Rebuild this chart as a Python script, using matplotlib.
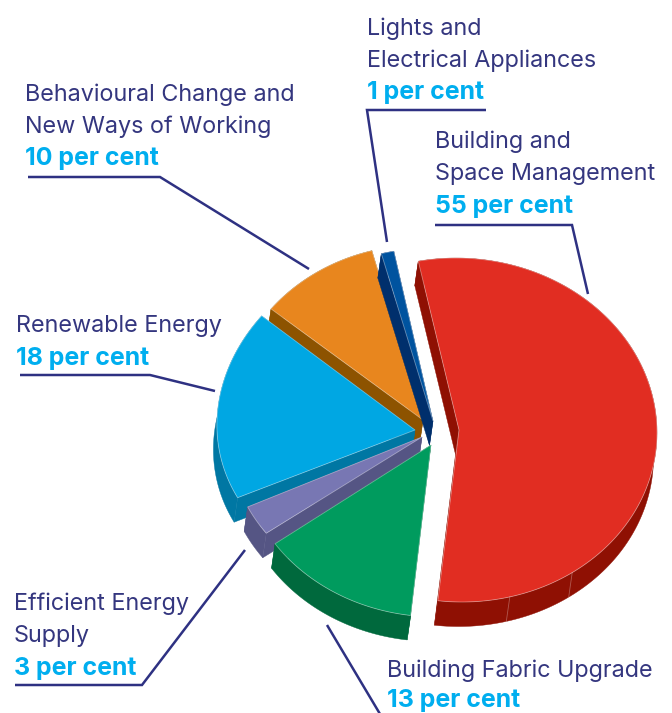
import numpy as np
import matplotlib
matplotlib.use("Agg")
import matplotlib.pyplot as plt
from matplotlib.patches import Polygon

categories = ["Building and\nSpace Management", "Building Fabric Upgrade", "Efficient Energy\nSupply",
              "Renewable Energy", "Behavioural Change and\nNew Ways of Working", "Lights and\nElectrical Appliances"]
values = [55, 13, 3, 18, 10, 1]

W, H = 672, 713
START = -11.0
TOP = ["#E12D22", "#009B5E", "#7877B3", "#00A7E3", "#E8861E", "#00539F"]
SIDE = ["#8F1003", "#00693D", "#555584", "#0077A3", "#8D5300", "#002F6C"]
# per-slice placement: apex x, apex y, rx, ry, perspective, shear
PLACE = [(459, 430, 198, 172, 0.0, -3),
         (431, 445, 189, 161, -0.063, -4),
         (422, 437, 193, 163, 0.0, 0),
         (415, 430, 198, 166, 0.121, 18),
         (423, 420, 195, 175, 0.0, -2),
         (433, 421, 205, 173, 0.0, 0)]
DEPTH = np.array([-3.5, 24.5])
ORDER = [4, 5, 3, 2, 1, 0]
NAVY = "#2E3182"
TEXT_NAVY = "#34367F"
CYAN = "#00AEEF"

plt.rcParams["font.family"] = ["Inter", "DejaVu Sans"]
fig = plt.figure(figsize=(W / 100, H / 100), dpi=100)
ax = fig.add_axes([0, 0, 1, 1])
ax.set_xlim(0, W)
ax.set_ylim(H, 0)
ax.axis("off")


def point(place, theta):
    ax0, ay0, rx, ry, p, sk = place
    t = np.radians(theta)
    u, v = np.sin(t), np.cos(t)
    w = 1 - p * v
    return ax0 + (rx * u + sk * v) / w, ay0 - ry * v / w


edges = np.cumsum([0] + values) * 3.6 + START
for i in ORDER:
    place = PLACE[i]
    z = 2 + ORDER.index(i) * 2
    th = np.linspace(edges[i], edges[i + 1], max(12, int((edges[i + 1] - edges[i]) * 2)))
    xs, ys = point(place, th)
    arc = np.column_stack([xs, ys])
    apex = np.array([place[0], place[1]], dtype=float)
    side_kw = dict(closed=True, fc=SIDE[i], ec=SIDE[i], lw=0.3, zorder=z)
    # outer rim as one band, then the two straight walls
    ax.add_patch(Polygon(np.vstack([arc, (arc + DEPTH)[::-1]]), **side_kw))
    for end in (arc[0], arc[-1]):
        ax.add_patch(Polygon([apex, end, end + DEPTH, apex + DEPTH], **side_kw))
    outline = np.vstack([apex, arc])
    ax.add_patch(Polygon(outline, closed=True, fc=TOP[i], ec=matplotlib.colors.to_rgba("white", 0.4),
                         lw=0.6, joinstyle="miter", zorder=z + 1))
    if i == 0:
        for t in (146, 166):
            x0, y0 = point(place, t)
            ax.plot([x0, x0 + DEPTH[0]], [y0, y0 + DEPTH[1]], color="white", alpha=0.3, lw=0.6, zorder=z + 1)

leaders = [([486, 367, 387], [110, 110, 242]),
           ([435, 572, 588], [225, 225, 294]),
           ([28, 160, 309], [177, 177, 269]),
           ([20, 150, 215], [375, 375, 391]),
           ([15, 142, 245], [685, 685, 550]),
           ([327, 380], [625, 714])]
for lx, ly in leaders:
    ax.plot(lx, ly, color=NAVY, lw=1.8, solid_capstyle="butt", solid_joinstyle="miter", zorder=20)

FS = 23.4 * 0.72
FS_BOLD = 24.9 * 0.72
labels = [(435, [142, 174], categories[0], 206, values[0]),
          (387, [671], categories[1], 700.5, values[1]),
          (14, [604, 636], categories[2], 668, values[2]),
          (16, [326], categories[3], 358, values[3]),
          (25, [95, 127], categories[4], 159, values[4]),
          (367, [29, 61], categories[5], 93, values[5])]
for x, ys, name, py, val in labels:
    for y, line in zip(ys, name.split("\n")):
        ax.text(x, y, line, color=TEXT_NAVY, fontsize=FS, va="center", ha="left", zorder=30)
    ax.text(x, py, f"{val} per cent", color=CYAN, fontsize=FS_BOLD, fontweight="bold", va="center", ha="left", zorder=30)

fig.savefig("out.png", dpi=100)
